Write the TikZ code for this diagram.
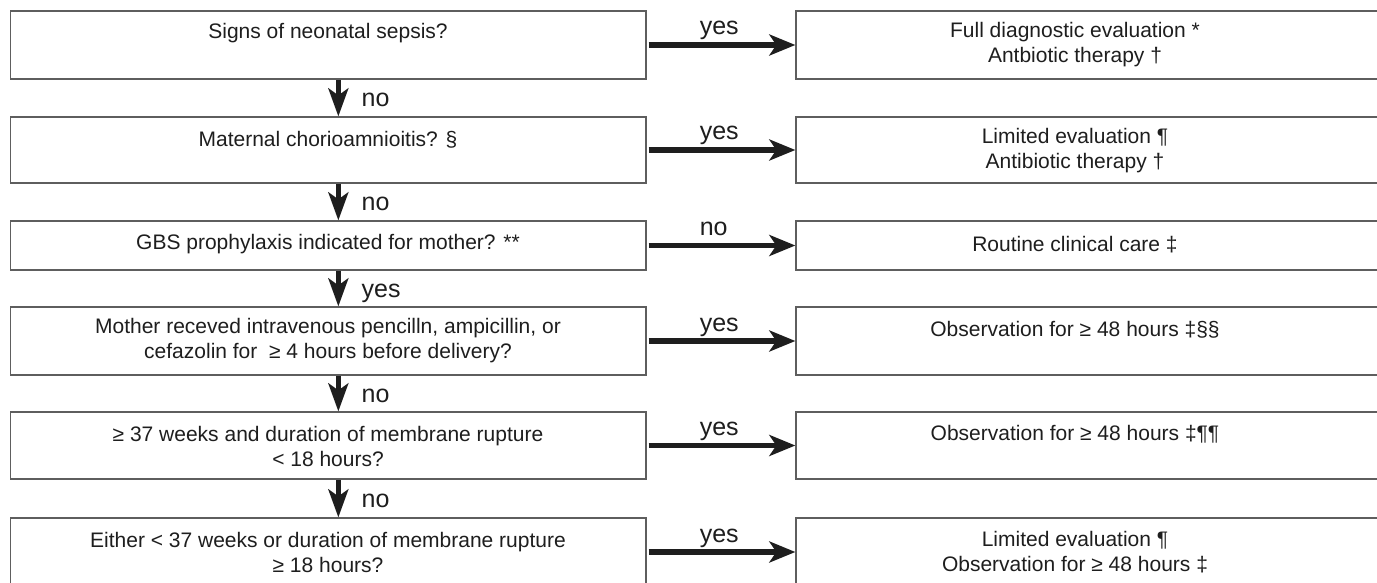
\documentclass[tikz,border=0pt]{standalone}
\usepackage{fontspec}
\setmainfont{Liberation Sans}
\usetikzlibrary{arrows.meta}
\definecolor{boxline}{HTML}{5E5E5E}
\definecolor{ink}{HTML}{1E1E1E}
\begin{document}
\begin{tikzpicture}[x=1pt,y=-1pt,
  qbox/.style={draw=boxline, line width=1.3pt, minimum width=635.3pt, inner sep=0pt},
  abox/.style={draw=boxline, line width=1.3pt, minimum width=590pt, inner sep=0pt},
  txt/.style={font=\fontsize{21}{25}\selectfont, align=center, inner sep=0pt, text=ink},
  lbl/.style={font=\fontsize{25}{28}\selectfont, inner sep=0pt, text=ink},
  flow/.style={draw=ink, line width=5.5pt, shorten <=2pt,
    -{Stealth[length=26pt,width=21pt,inset=7pt]}},
  down/.style={draw=ink, line width=4.5pt,
    -{Stealth[length=28pt,width=20pt,inset=7pt]}},
  hlbl/.style={lbl, anchor=base west, xshift=-24pt, yshift=10pt},
  vlbl/.style={lbl, anchor=base west, xshift=21pt, yshift=-9pt},
]
\useasboundingbox (0,0) rectangle (1377,583);
\fill[white] (0,0) rectangle (1377,583);

% question boxes (left column)
\node[qbox, minimum height=68pt] (q1) at (328.35,45) {};
\node[qbox, minimum height=66pt] (q2) at (328.35,150) {};
\node[qbox, minimum height=49pt] (q3) at (328.35,245.5) {};
\node[qbox, minimum height=68pt] (q4) at (328.35,341) {};
\node[qbox, minimum height=67pt] (q5) at (328.35,445.5) {};
\node[qbox, minimum height=68pt] (q6) at (328.35,552) {};

% action boxes (right column)
\node[abox, minimum height=68pt] (a1) at (1091,45) {};
\node[abox, minimum height=66pt] (a2) at (1091,150) {};
\node[abox, minimum height=49pt] (a3) at (1091,245.5) {};
\node[abox, minimum height=68pt] (a4) at (1091,341) {};
\node[abox, minimum height=67pt] (a5) at (1091,445.5) {};
\node[abox, minimum height=68pt] (a6) at (1091,552) {};

% question texts
\node[txt] (q1t) at (328,33.5) {Signs of neonatal sepsis?};
\node[txt] (q2t) at (328,139.5) {Maternal chorioamnioitis? \S};
\node[txt] (q3t) at (328,244.5) {GBS prophylaxis indicated for mother? **};
\node[txt] (q4t) at (328,341) {Mother receved intravenous pencilln, ampicillin, or\\cefazolin for~ ≥ 4 hours before delivery?};
\node[txt] (q5t) at (328,446) {≥ 37 weeks and duration of membrane rupture\\< 18 hours?};
\node[txt] (q6t) at (328,552) {Either < 37 weeks or duration of membrane rupture\\≥ 18 hours?};

% action texts
\node[txt] (a1t) at (1075,45) {Full diagnostic evaluation *\\Antbiotic therapy †};
\node[txt] (a2t) at (1075,151) {Limited evaluation ¶\\Antibiotic therapy †};
\node[txt] (a3t) at (1075,244.5) {Routine clinical care ‡};
\node[txt] (a4t) at (1075,329.5) {Observation for ≥ 48 hours ‡\S\S};
\node[txt] (a5t) at (1075,434.5) {Observation for ≥ 48 hours ‡¶¶};
\node[txt] (a6t) at (1075,552) {Limited evaluation ¶\\Observation for ≥ 48 hours ‡};

% horizontal branches
\draw[flow] (q1.east) -- node[hlbl] {yes} (a1.west);
\draw[flow] (q2.east) -- node[hlbl] {yes} (a2.west);
\draw[flow] (q3.east) -- node[hlbl] {no} (a3.west);
\draw[flow] (q4.east) -- node[hlbl] {yes} (a4.west);
\draw[flow] (q5.east) -- node[hlbl] {yes} (a5.west);
\draw[flow] (q6.east) -- node[hlbl] {yes} (a6.west);

% vertical branches
\draw[down] ([xshift=10pt]q1.south) -- node[vlbl] {no} ([xshift=10pt]q2.north);
\draw[down] ([xshift=10pt]q2.south) -- node[vlbl] {no} ([xshift=10pt]q3.north);
\draw[down] ([xshift=10pt]q3.south) -- node[vlbl] {yes} ([xshift=10pt]q4.north);
\draw[down] ([xshift=10pt]q4.south) -- node[vlbl] {no} ([xshift=10pt]q5.north);
\draw[down] ([xshift=10pt]q5.south) -- node[vlbl] {no} ([xshift=10pt]q6.north);
\end{tikzpicture}
\end{document}
